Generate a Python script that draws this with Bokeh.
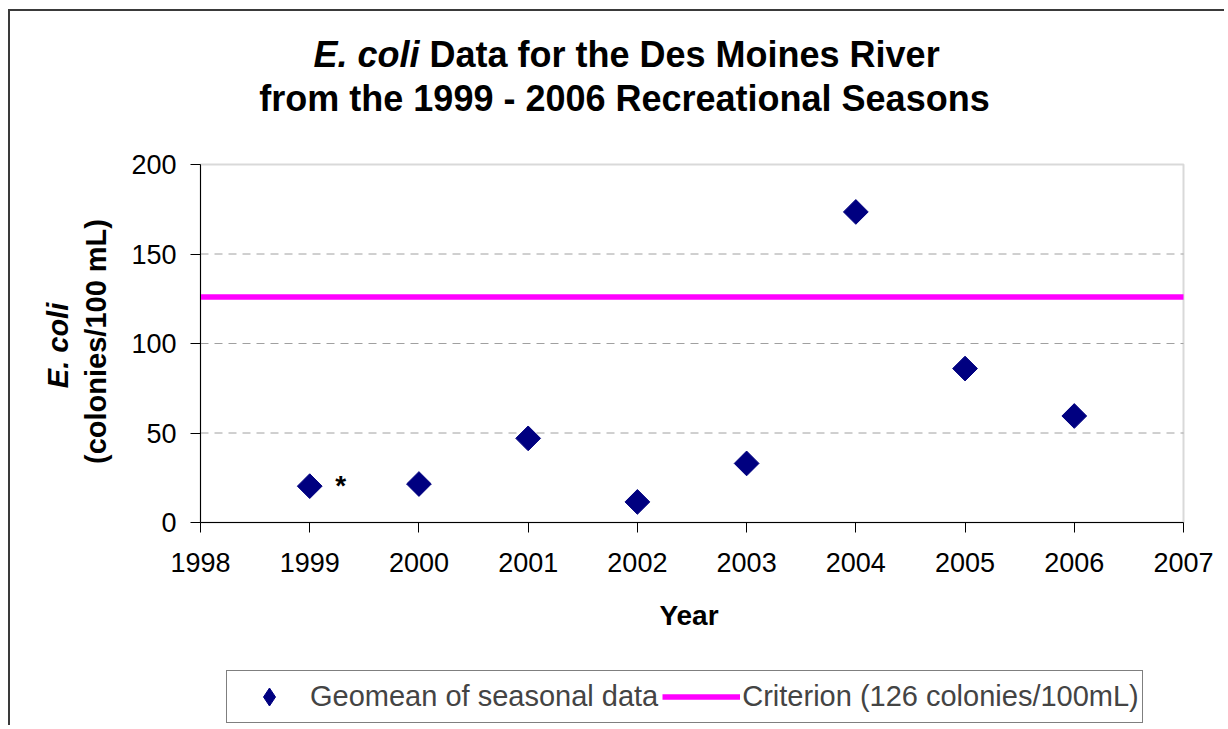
import math
from bokeh.plotting import figure
from bokeh.models import Range1d, FixedTicker, Label, Legend, LegendItem, BoxAnnotation
from bokeh.embed import file_html
from bokeh.resources import INLINE

# ---------------- data ----------------
years = [1999, 2000, 2001, 2002, 2003, 2004, 2005, 2006]
geomean = [20.3, 21.5, 47, 11.5, 33, 173.5, 86, 59.5]
criterion_x = [1998, 2007]
criterion_y = [126, 126]
x_ticks = list(range(1998, 2008))
y_ticks = [0, 50, 100, 150, 200]
grid_ticks = [50, 100, 150]
title_italic = "E. coli"
title_rest = "Data for the Des Moines River"
title_line2 = "from the 1999 - 2006 Recreational Seasons"
ylabel_italic = "E. coli"
ylabel_line2 = "(colonies/100 mL)"
xlabel = "Year"
series_names = ["Geomean of seasonal data", "Criterion (126 colonies/100mL)"]
note_year = 1999
note_text = "*"

FONT = "Liberation Sans"
NAVY = "#000080"
MAGENTA = "#FF00FF"

# ---------------- layout (canvas pixels) ----------------
W, H = 1216, 716                 # canvas size
PL, PR, PT, PB = 190, 1173, 153, 511   # plot-area box inside canvas
x0, x1 = x_ticks[0], x_ticks[-1]
y0, y1 = y_ticks[0], y_ticks[-1]
kx = (PR - PL) / (x1 - x0)
ky = (PB - PT) / (y1 - y0)
xr = Range1d(x0 - PL / kx, x1 + (W - PR) / kx)
yr = Range1d(y0 - (H - PB) / ky, y1 + PT / ky)

def dx(cx):
    return xr.start + cx / kx

def dy(cy):
    return yr.end - cy / ky

p = figure(width=W, height=H, x_range=xr, y_range=yr,
           output_backend="svg", toolbar_location=None, min_border=0)
p.styles = {"margin-left": "8px", "margin-top": "9px",
            "border-left": "2px solid #3a3a3a", "border-top": "2px solid #3a3a3a"}
p.outline_line_color = None
p.background_fill_color = "white"
p.border_fill_color = "white"
p.grid.visible = False

# plot-area frame (gray top/right edges)
p.add_layout(BoxAnnotation(left=x0, right=x1, bottom=y0, top=y1, fill_color=None,
                           line_color="#808080", line_width=2, level="underlay"))
# dashed horizontal gridlines
p.segment(x0=[x0] * len(grid_ticks), x1=[x1] * len(grid_ticks),
          y0=grid_ticks, y1=grid_ticks, line_color="#a0a0a0",
          line_dash="8 6", line_width=1)

xax = p.xaxis[0]
yax = p.yaxis[0]
xax.fixed_location = y0
yax.fixed_location = x0
xax.bounds = (x0, x1)
yax.bounds = (y0, y1)
for ax, ticks in ((xax, x_ticks), (yax, y_ticks)):
    ax.ticker = FixedTicker(ticks=ticks)
    ax.axis_line_color = "black"
    ax.axis_line_width = 1
    ax.major_tick_line_color = "black"
    ax.major_tick_out = 10
    ax.major_tick_in = 0
    ax.minor_tick_line_color = None
    ax.major_label_text_font = FONT
    ax.major_label_text_font_size = "27px"
    ax.major_label_text_color = "black"
xax.major_label_standoff = 20
yax.major_label_standoff = 14

crit = p.line(criterion_x, criterion_y, line_color=MAGENTA, line_width=5.5)
pts = p.scatter(years, geomean, marker="square", angle=math.pi / 4, size=17.5,
                fill_color=NAVY, line_color=NAVY)
# hidden diamond renderer of the same series, used only as the legend swatch
swatch = p.scatter(years, geomean, marker="diamond", size=25,
                   fill_color=NAVY, line_color=NAVY, visible=False)

p.add_layout(Label(x=note_year, y=geomean[years.index(note_year)], text=note_text,
                   x_offset=31, y_offset=1, text_font=FONT, text_font_size="28px",
                   text_font_style="bold", text_align="center",
                   text_baseline="alphabetic", text_color="black"))

def lab(text, cx, cy, size, style, align="left", angle=0.0):
    p.add_layout(Label(x=dx(cx), y=dy(cy), text=text, text_font=FONT,
                       text_font_size=size, text_font_style=style,
                       text_align=align, text_baseline="alphabetic",
                       text_color="black", angle=angle))

# chart title
lab(title_italic, 303, 43, "36px", "bold italic")
lab(title_rest, 419, 43, "36px", "bold")
lab(title_line2, 614, 87, "36px", "bold", align="center")
# y-axis title
lab(ylabel_italic, 47, 334, "29px", "bold italic", align="center", angle=math.pi / 2)
lab(ylabel_line2, 85, 330, "29px", "bold", align="center", angle=math.pi / 2)
# x-axis title
lab(xlabel, (PL + PR) / 2 - 3, 604, "28px", "bold", align="center")

legend = Legend(items=[LegendItem(label=series_names[0], renderers=[swatch]),
                       LegendItem(label=series_names[1], renderers=[crit])],
                orientation="horizontal", location=(216, 4),
                label_text_font=FONT, label_text_font_size="29px",
                glyph_width=78, glyph_height=45, label_height=45,
                label_standoff=2, spacing=4, padding=3, margin=0,
                border_line_color="black", border_line_width=1,
                background_fill_color="white", background_fill_alpha=1,
                inactive_fill_alpha=0)
p.add_layout(legend)

open("out.html", "w").write(file_html(p, INLINE))
